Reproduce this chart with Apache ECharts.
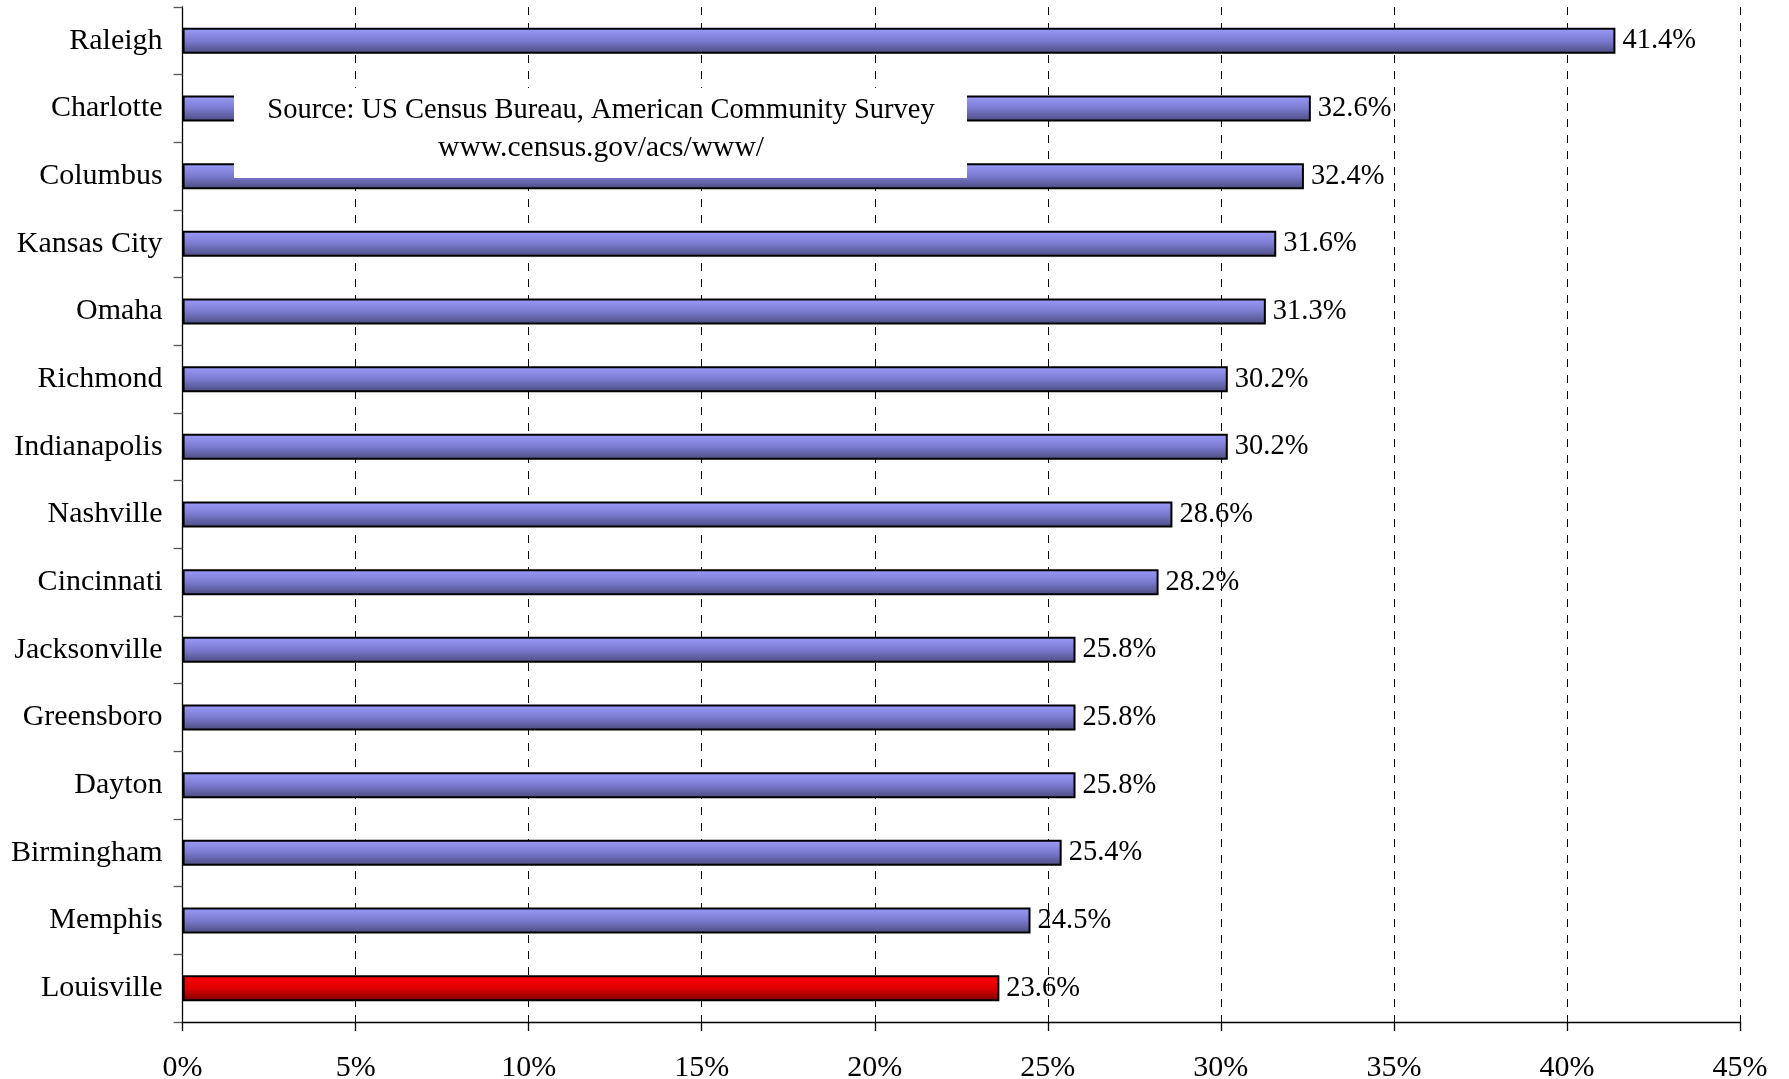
<!DOCTYPE html>
<html>
<head>
<meta charset="utf-8">
<script src="https://cdn.jsdelivr.net/npm/echarts@6/dist/echarts.min.js"></script>
<style>
html,body{margin:0;padding:0;background:#fff;}
#chart{width:1789px;height:1079px;}
</style>
</head>
<body>
<div id="chart"></div>
<script>
const cities = ['Raleigh','Charlotte','Columbus','Kansas City','Omaha','Richmond','Indianapolis','Nashville','Cincinnati','Jacksonville','Greensboro','Dayton','Birmingham','Memphis','Louisville'];
const values = [41.4, 32.6, 32.4, 31.6, 31.3, 30.2, 30.2, 28.6, 28.2, 25.8, 25.8, 25.8, 25.4, 24.5, 23.6];
const highlightCity = 'Louisville';
const sourceLines = ['Source: US Census Bureau, American Community Survey', 'www.census.gov/acs/www/'];

const FONT = 'Liberation Serif';
const blueGrad = new echarts.graphic.LinearGradient(0,0,0,1,[
  {offset:0,color:'#9d9dfb'},{offset:0.5,color:'#7a7ad0'},{offset:1,color:'#4a4a7c'}]);
const redGrad = new echarts.graphic.LinearGradient(0,0,0,1,[
  {offset:0,color:'#ff0000'},{offset:0.5,color:'#e00000'},{offset:1,color:'#7a0000'}]);

const chart = echarts.init(document.getElementById('chart'), null, {renderer:'canvas'});
chart.setOption({
  animation:false,
  backgroundColor:'#fff',
  grid:{left:182.6, right:49, top:7, bottom:57, containLabel:false, outerBoundsMode:'none'},
  xAxis:{
    type:'value', min:0, max:45, interval:5,
    axisLine:{show:true, lineStyle:{color:'#000', width:1.3}},
    axisTick:{show:true, length:9, lineStyle:{color:'#000', width:1.3}},
    axisLabel:{formatter:'{value}%', fontFamily:FONT, fontSize:30, color:'#000', margin:31},
    splitLine:{show:true, lineStyle:{color:'#000', type:[8,8], width:1}}
  },
  yAxis:{
    type:'category', data:cities, inverse:true,
    axisLine:{show:true, lineStyle:{color:'#000', width:1.3}},
    axisTick:{show:true, length:9, lineStyle:{color:'#555', width:1.3}},
    axisLabel:{fontFamily:FONT, fontSize:30, color:'#000', margin:20, padding:[4,0,0,0]},
    splitLine:{show:false}
  },
  series:[{
    type:'bar',
    data:values.map((v,i)=>({value:v, itemStyle:{color: cities[i]===highlightCity ? redGrad : blueGrad}})),
    barWidth:26,
    itemStyle:{borderColor:'#000', borderWidth:2},
    label:{show:true, position:'right', distance:7, fontFamily:FONT, fontSize:28.5, color:'#000',
      formatter:p=>p.value.toFixed(1)+'%'}
  }],
  graphic:[{
    type:'group', z:100,
    children:[
      {type:'rect', shape:{x:234, y:88, width:733, height:90}, style:{fill:'#fff'}, z:100},
      {type:'text', x:601, y:111, style:{text:sourceLines[0], font:'28.5px "Liberation Serif"', fill:'#000', textAlign:'center', textVerticalAlign:'middle'}, z:101},
      {type:'text', x:601, y:148, style:{text:sourceLines[1], font:'29.5px "Liberation Serif"', fill:'#000', textAlign:'center', textVerticalAlign:'middle'}, z:101}
    ]
  }]
});
</script>
</body>
</html>
